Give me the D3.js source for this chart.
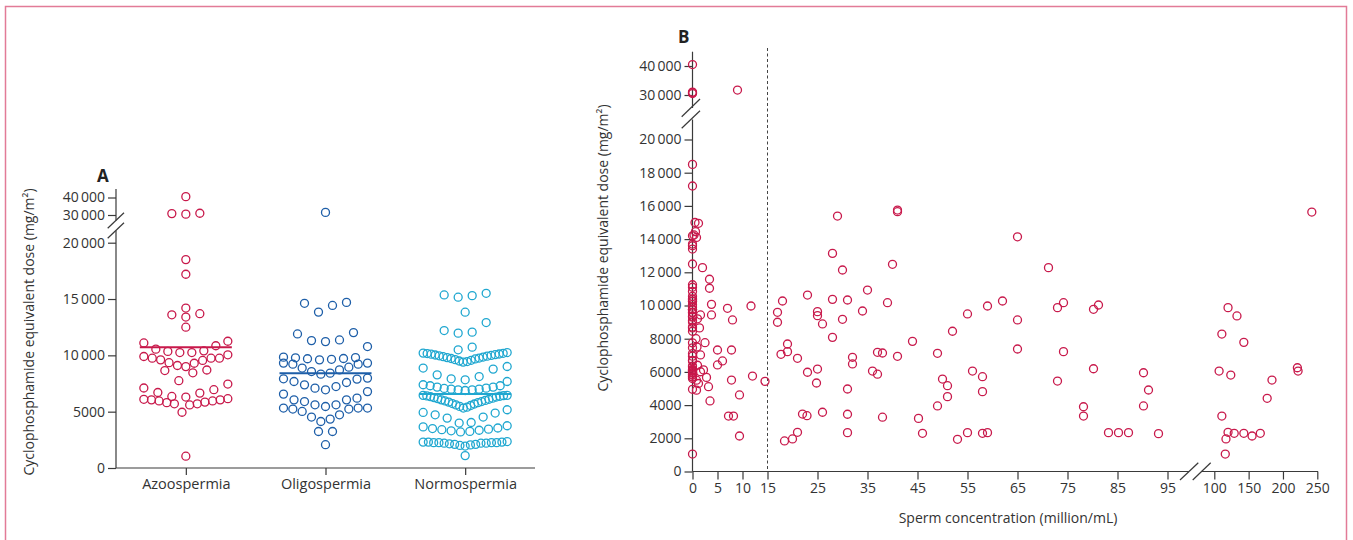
<!DOCTYPE html>
<html>
<head>
<meta charset="utf-8">
<script src="https://cdn.jsdelivr.net/npm/d3@7"></script>
<style>
    body { margin: 0; background: #fff; }
    svg { display: block; font-family: "Open Sans", sans-serif; }
</style>
</head>
<body>
<script>
// ---- panel A data ----
const groups = ["Azoospermia", "Oligospermia", "Normospermia"];
const groupColors = ["#c8194b", "#1d5ea8", "#1fa7d0"];

const azoo = [40500, 31000, 30500, 30800, 18500, 17200, 14200, 13600, 13400, 13700, 12500,
    11250, 10850, 10400, 10250, 10250, 10350, 10550, 11100,
    10050, 9750, 9750, 9550, 9350, 9000, 9100, 9300, 9600, 9750, 9900,
    8700, 8450, 8650, 7750,
    7450, 6950, 6650, 6300, 6350, 6700, 7100,
    6100, 6050, 5950, 5850, 5700, 5600, 5700, 5800, 5950, 6050, 6150,
    4950, 1050];

const oligo = [31500,
    14700, 14430, 13840, 14620,
    12020, 11370, 11220, 11310, 11900,
    10780,
    9840, 9780, 9700, 9650, 9720, 9800, 9600,
    9310, 9220, 8870, 8560, 8330, 8420, 8710, 8950, 9220, 9310,
    7920, 7680, 7380, 7090, 6940, 7230, 7590, 7890, 7980,
    6780, 6200, 5900, 5610, 5460, 5610, 6050, 6050, 6560,
    5320, 5320, 5230, 4720, 4340, 4130, 4520, 5020, 5230, 5320,
    3240, 3240,
    2070];

const normo = [15510, 15160, 15300, 15360,
    13830, 12910,
    11970, 12060, 12200,
    10490, 10730,
    10200, 10180, 10120, 10060, 9990, 9930, 9850, 9760, 9680, 9560, 9450,
    9400, 9500, 9620, 9720, 9800, 9880, 9960, 10030, 10100, 10160, 10250,
    9010, 8870, 8780, 8270, 8120, 7920, 7830, 7680,
    7300, 7180, 7090, 7000, 6940, 6880, 6940, 7000, 7060, 7180, 7300, 7390,
    6450, 6400, 6330, 6250, 6150, 6050, 5950, 5850, 5720, 5600, 5470, 5320,
    5400, 5550, 5680, 5800, 5900, 6000, 6100, 6200, 6300, 6370, 6420, 6450,
    5170, 4880, 4520, 3990, 3750, 4040, 4430, 4720, 4930,
    3550, 3400, 3250, 3300, 3650, 3450, 3200, 3350, 3500,
    2250, 2200, 2300, 2150, 2250, 2100, 2050, 1950, 2000, 2100, 2200, 2300, 2350, 2250, 2200, 2300, 2250,
    1100];

const groupLines = [10730, 8420, 6560];
const yTicksLowA = [0, 5000, 10000, 15000, 20000];
const yTicksHigh = [30000, 40000];

// ---- panel B data (concentration, dose); azoospermia points sit at 0 ----
const bConc = [0.5, 1.2, 0.6, 0.3, 0.8, 2.0, 1.6, 1.0, 1.4, 0.7, 2.5, 1.6, 0.9, 2.2, 1.0, 1.6, 0.8, 1.2, 0.8,
    3.4, 3.4, 3.8, 3.8, 7.0, 11.7, 8.0, 5.0, 6.0, 7.8, 5.0, 3.2, 2.8, 7.8, 12.0, 14.5, 9.4, 3.5, 7.2, 8.2, 9.4, 9.0,
    18.0, 17.0, 17.0, 23.0, 29.0, 28.0, 30.0, 25.0, 25.0, 26.0, 28.0, 31.0, 30.0, 35.0, 34.0, 40.0, 39.0, 41.0, 41.0,
    28.0, 19.0, 19.0, 17.7, 21.0, 23.0, 25.0, 24.8, 32.0, 32.0, 31.0, 37.0, 38.0, 36.0, 37.0, 41.0, 44.0, 49.0,
    52.0, 55.0, 59.0, 62.0, 65.0, 65.0, 65.0, 71.2, 73.0, 74.2, 74.2, 73.0, 50.0, 51.0, 51.0, 49.0, 56.0, 58.0, 58.0,
    22.0, 22.9, 26.0, 31.0, 31.0, 38.0, 45.2, 46.0, 53.0, 55.0, 58.0, 59.0, 18.4, 20.0, 21.0,
    80.2, 81.2, 80.2, 78.2, 78.2, 83.2, 85.2, 87.2, 93.2, 90.2, 91.2, 90.2,
    120, 133, 111, 143, 107, 124, 111, 120, 129, 143, 155, 167, 117, 116, 184, 177, 221, 222, 242];
const bDose = [15000, 14950, 14450, 14250, 14100, 12280, 9430, 9200, 8650, 8000, 7760, 7020, 7500, 6120, 6400, 6010, 5500, 5300, 4900,
    11580, 11040, 10070, 9430, 9830, 9970, 9130, 7320, 6660, 7320, 6420, 5110, 5670, 5510, 5750, 5430, 4610, 4250, 3340, 3340, 2140, 31700,
    10270, 9590, 8990, 10630, 15390, 13140, 12140, 9630, 9390, 8890, 10370, 10330, 9170, 10930, 9670, 12480, 10170, 15750, 15650,
    8080, 7680, 7220, 7060, 6820, 5980, 6170, 5330, 6880, 6480, 4970, 7180, 7140, 6050, 5860, 6940, 7840, 7120,
    8450, 9490, 9970, 10270, 14140, 9130, 7380, 12280, 9870, 10170, 7220, 5450, 5570, 5170, 4510, 3950, 6050, 5710, 4810,
    3460, 3360, 3570, 3450, 2340, 3270, 3200, 2300, 1940, 2340, 2300, 2340, 1840, 1960, 2360,
    9770, 10030, 6190, 3900, 3340, 2340, 2340, 2340, 2280, 5950, 4910, 3950,
    9870, 9370, 8280, 7780, 6050, 5810, 3340, 2360, 2300, 2300, 2140, 2300, 1960, 1050, 5510, 4410, 6250, 6050, 15630];

const yTicksLowB = [0, 2000, 4000, 6000, 8000, 10000, 12000, 14000, 16000, 18000, 20000];
const xTicksLeft = [0, 5, 10, 15, 25, 35, 45, 55, 65, 75, 85, 95];
const xTicksRight = [100, 150, 200, 250];
const cutoff = 15;

const width = 1353;
const height = 540;
const ink = "#3a3a3a";

const svg = d3.select("body").append("svg")
    .attr("width", width)
    .attr("height", height);

// pink frame
svg.append("rect")
    .attr("x", 5.5).attr("y", 6.5)
    .attr("width", 1341).attr("height", 560)
    .attr("fill", "none")
    .attr("stroke", "#e27b97")
    .attr("stroke-width", 1.5);

const fmt = d => d >= 10000 ? d3.format(",")(d).replace(/,/g, "\u2009") : String(d);

function styleAxis(g) {
    g.select(".domain").remove();
    g.selectAll(".tick line").attr("stroke", ink).attr("stroke-width", 1.2);
    g.selectAll(".tick text")
        .attr("fill", "#333")
        .style("font-size", "14px")
        .style("font-family", "'Open Sans', sans-serif");
}

function line(g, x1, y1, x2, y2) {
    g.append("line")
        .attr("x1", x1).attr("y1", y1).attr("x2", x2).attr("y2", y2)
        .attr("stroke", ink).attr("stroke-width", 1.2);
}

// ================= panel A =================
const gA = svg.append("g");
const xA = d3.scalePoint().domain(groups).range([116, 535]).padding(0.5);
const yLowA = d3.scaleLinear().domain([0, 20000]).range([468, 242.7]);
const yHighA = d3.scaleLinear().domain([30000, 40000]).range([215, 197.5]);
const yA = v => v >= 25000 ? yHighA(v) : yLowA(v);

// row binning so that points sharing a row spread sideways (lowest in the middle)
const rowStep = [1300, 1350, 1300];
const rowOffset = [1000, 5445, 0];

function swarm(values, cx, step, offset) {
    const bins = d3.group(values, v => v >= 25000
        ? "u" + Math.floor((v - 25000) / 7500)
        : "l" + Math.floor((v - offset) / step));
    const pts = [];
    for (const [, vs] of bins) {
        const s = vs.slice().sort((a, b) => a - b);
        const n = s.length;
        const gap = n > 1 ? Math.min(14, 84 / (n - 1)) : 0;
        const slots = d3.range(n)
            .map(i => (i - (n - 1) / 2) * gap)
            .sort((a, b) => Math.abs(a) - Math.abs(b) || a - b);
        s.forEach((v, i) => pts.push({ v: v, x: cx + slots[i], y: yA(v) }));
    }
    return pts;
}

[azoo, oligo, normo].forEach(function (vals, i) {
    const cx = xA(groups[i]);
    gA.append("g")
        .selectAll("circle")
        .data(swarm(vals, cx, rowStep[i], rowOffset[i]))
        .enter()
        .append("circle")
        .attr("cx", d => d.x)
        .attr("cy", d => d.y)
        .attr("r", 4)
        .attr("fill", "none")
        .attr("stroke", groupColors[i])
        .attr("stroke-width", 1.3);

    gA.append("line")
        .attr("x1", cx - 46).attr("x2", cx + 46)
        .attr("y1", yA(groupLines[i])).attr("y2", yA(groupLines[i]))
        .attr("stroke", groupColors[i])
        .attr("stroke-width", 2);
});

gA.append("g").attr("transform", "translate(116,0)")
    .call(d3.axisLeft(yLowA).tickValues(yTicksLowA).tickSize(8).tickPadding(3).tickFormat(fmt))
    .call(styleAxis);
gA.append("g").attr("transform", "translate(116,0)")
    .call(d3.axisLeft(yHighA).tickValues(yTicksHigh).tickSize(8).tickPadding(3).tickFormat(fmt))
    .call(styleAxis);
gA.append("g").attr("transform", "translate(0,468)")
    .call(d3.axisBottom(xA).tickSize(7).tickPadding(4))
    .call(styleAxis)
    .selectAll(".tick text").style("font-size", "14.5px");

// axis lines with break
line(gA, 116, 189, 116, 220.5);
line(gA, 116, 230.5, 116, 468);
line(gA, 116, 468, 535, 468);
line(gA, 107.7, 228.3, 124, 212.7);
line(gA, 107.7, 238.3, 124, 222.7);

gA.append("text")
    .attr("x", 97).attr("y", 182)
    .attr("font-weight", "bold").attr("font-size", 17).attr("fill", "#222")
    .text("A");

gA.append("text")
    .attr("transform", "translate(34,332) rotate(-90)")
    .attr("text-anchor", "middle")
    .attr("font-size", 14).attr("fill", "#333")
    .text("Cyclophosphamide equivalent dose (mg/m²)");

// ================= panel B =================
const gB = svg.append("g");
const xLeftB = d3.scaleLinear().domain([0, 95]).range([692.5, 1167.5]);
const xRightB = d3.scaleLinear().domain([100, 250]).range([1214.3, 1317.3]);
const xB = c => c <= 95 ? xLeftB(c) : xRightB(c);
const yLowB = d3.scaleLinear().domain([0, 20000]).range([471.5, 139.5]);
const yHighB = d3.scaleLinear().domain([30000, 40000]).range([95, 66]);
const yB = v => v >= 25000 ? yHighB(v) : yLowB(v);

const bPoints = azoo.map(v => ({ c: 0, v: v }))
    .concat(bConc.map((c, i) => ({ c: c, v: bDose[i] })));

// cut-off line at 15 million/mL
gB.append("line")
    .attr("x1", xLeftB(cutoff)).attr("x2", xLeftB(cutoff))
    .attr("y1", 48).attr("y2", 471.5)
    .attr("stroke", "#444")
    .attr("stroke-width", 1)
    .attr("stroke-dasharray", "3,2.5");

gB.append("g").attr("transform", "translate(692.5,0)")
    .call(d3.axisLeft(yLowB).tickValues(yTicksLowB).tickSize(8).tickPadding(3).tickFormat(fmt))
    .call(styleAxis);
gB.append("g").attr("transform", "translate(692.5,0)")
    .call(d3.axisLeft(yHighB).tickValues(yTicksHigh).tickSize(8).tickPadding(3).tickFormat(fmt))
    .call(styleAxis);
gB.append("g").attr("transform", "translate(0,471.5)")
    .call(d3.axisBottom(xLeftB).tickValues(xTicksLeft).tickSize(8).tickPadding(4))
    .call(styleAxis);
gB.append("g").attr("transform", "translate(0,471.5)")
    .call(d3.axisBottom(xRightB).tickValues(xTicksRight).tickSize(8).tickPadding(4))
    .call(styleAxis);

line(gB, 692.5, 51.7, 692.5, 108);
line(gB, 692.5, 119.5, 692.5, 471.5);
line(gB, 681.7, 116.7, 700, 99);
line(gB, 681.7, 128.3, 700, 110.7);
line(gB, 692.5, 471.5, 1189, 471.5);
line(gB, 1201.7, 471.5, 1318, 471.5);
line(gB, 1180, 480, 1198.3, 462.7);
line(gB, 1192.7, 480, 1210.7, 462.7);

gB.append("g")
    .selectAll("circle")
    .data(bPoints)
    .enter()
    .append("circle")
    .attr("cx", d => xB(d.c))
    .attr("cy", d => yB(d.v))
    .attr("r", 4)
    .attr("fill", "none")
    .attr("stroke", groupColors[0])
    .attr("stroke-width", 1.3);

gB.append("text")
    .attr("x", 678).attr("y", 43)
    .attr("font-weight", "bold").attr("font-size", 17).attr("fill", "#222")
    .text("B");

gB.append("text")
    .attr("transform", "translate(608,248) rotate(-90)")
    .attr("text-anchor", "middle")
    .attr("font-size", 14).attr("fill", "#333")
    .text("Cyclophosphamide equivalent dose (mg/m²)");

gB.append("text")
    .attr("x", 1008).attr("y", 523)
    .attr("text-anchor", "middle")
    .attr("font-size", 14).attr("fill", "#333")
    .text("Sperm concentration (million/mL)");
</script>
</body>
</html>
